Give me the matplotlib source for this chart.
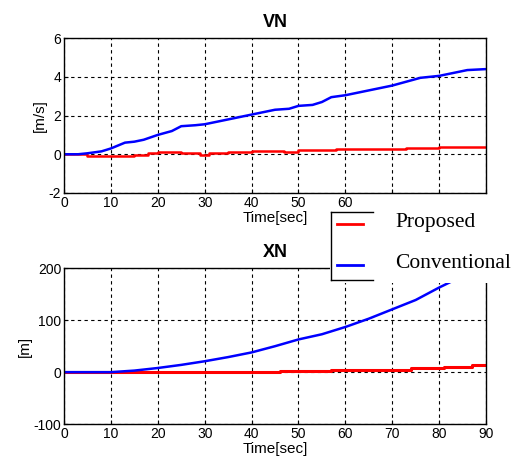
import matplotlib.pyplot as plt
import matplotlib as mpl
from matplotlib.patches import Rectangle
from matplotlib.lines import Line2D

mpl.rcParams['font.family'] = ['Liberation Sans Narrow', 'Liberation Sans', 'DejaVu Sans']
mpl.rcParams['axes.unicode_minus'] = False

# VN data (velocity north)
vn_t = [0, 3, 5, 8, 10, 12, 13, 15, 17, 20, 23, 25, 28, 30, 35, 40, 45, 48, 50, 53, 55, 57,
        60, 63, 67, 70, 73, 76, 80, 83, 86, 90]
vn_conv = [0, 0, 0.05, 0.15, 0.3, 0.5, 0.6, 0.65, 0.75, 1.0, 1.2, 1.45, 1.5, 1.55, 1.8, 2.05,
           2.3, 2.35, 2.5, 2.55, 2.7, 2.95, 3.05, 3.2, 3.4, 3.55, 3.75, 3.95, 4.05, 4.2, 4.35, 4.4]
vn_prop_t = [0, 3, 5, 10, 15, 18, 20, 25, 28, 29, 31, 35, 40, 45, 47, 50, 55, 58, 60, 65, 70,
             73, 78, 80, 85, 90]
vn_prop = [0, 0, -0.1, -0.08, -0.05, 0.05, 0.1, 0.05, 0.05, -0.05, 0.05, 0.1, 0.15, 0.15, 0.1,
           0.2, 0.2, 0.25, 0.25, 0.25, 0.25, 0.3, 0.3, 0.35, 0.35, 0.4]

# XN data (position north)
xn_t = [0, 10, 15, 20, 25, 30, 35, 40, 45, 50, 55, 60, 65, 70, 75, 80, 85, 90]
xn_conv = [0, 0, 3, 8, 14, 21, 29, 38, 50, 63, 73, 87, 103, 121, 139, 163, 185, 210]
xn_prop_t = [0, 46, 46, 57, 57, 74, 74, 81, 81, 87, 87, 90]
xn_prop = [0, 0, 2, 2, 5, 5, 8, 8, 10, 10, 14, 14]

xticks = [0, 10, 20, 30, 40, 50, 60, 70, 80, 90]
top_xlabels = ['0', '10', '20', '30', '40', '50', '60', '', '', '']

fig = plt.figure(figsize=(5.16, 4.65), dpi=100)
ax1 = fig.add_axes([0.124, 0.585, 0.818, 0.333])
ax2 = fig.add_axes([0.124, 0.088, 0.818, 0.335])

tick_fs = 10

ax1.plot(vn_prop_t, vn_prop, color='red', lw=1.8, drawstyle='steps-post')
ax1.plot(vn_t, vn_conv, color='blue', lw=1.8)
ax1.set_xlim(0, 90)
ax1.set_ylim(-2, 6)
ax1.set_yticks([-2, 0, 2, 4, 6])
ax1.set_xticks(xticks)
ax1.set_xticklabels(top_xlabels)
ax1.set_title('VN', fontsize=13, fontweight='bold', pad=8)
ax1.set_ylabel('[m/s]', fontsize=11, labelpad=1)
ax1.set_xlabel('Time[sec]', fontsize=11, labelpad=1)

ax2.plot(xn_prop_t, xn_prop, color='red', lw=2.2)
ax2.plot(xn_t, xn_conv, color='blue', lw=1.8)
ax2.set_xlim(0, 90)
ax2.set_ylim(-100, 200)
ax2.set_yticks([-100, 0, 100, 200])
ax2.set_xticks(xticks)
ax2.set_title('XN', fontsize=13, fontweight='bold', pad=8)
ax2.set_ylabel('[m]', fontsize=11, labelpad=1)
ax2.set_xlabel('Time[sec]', fontsize=11, labelpad=1)

for ax in (ax1, ax2):
    ax.grid(True, color='black', linestyle=(0, (3, 3)), lw=0.8)
    ax.tick_params(direction='in', length=3, labelsize=tick_fs, pad=2)
    for sp in ax.spines.values():
        sp.set_linewidth(1.0)

# pasted legend box (white patch covering part of the plots)
W, H = 516, 465

def fx(px):
    return px / W

def fy(py):
    return 1 - py / H

fig.add_artist(Rectangle((fx(330), fy(283)), fx(516) - fx(330), fy(211) - fy(283),
                         transform=fig.transFigure, facecolor='white', edgecolor='none', zorder=10))
for xs, ys in [((331, 331), (212, 280)), ((331, 373), (212, 212)), ((331, 373), (280, 280))]:
    fig.add_artist(Line2D([fx(x) for x in xs], [fy(y) for y in ys], transform=fig.transFigure,
                          color='black', lw=1.0, zorder=11))

legend_items = [('Proposed', 'red', 224), ('Conventional', 'blue', 265)]
for label, col, py in legend_items:
    fig.add_artist(Line2D([fx(337), fx(363)], [fy(py), fy(py)], transform=fig.transFigure,
                          color=col, lw=2.0, zorder=11))
    fig.text(fx(395), fy(py - 1), label, fontsize=15.5, family='Liberation Serif',
             va='center', ha='left', zorder=12)

fig.savefig('out.png', dpi=100)
